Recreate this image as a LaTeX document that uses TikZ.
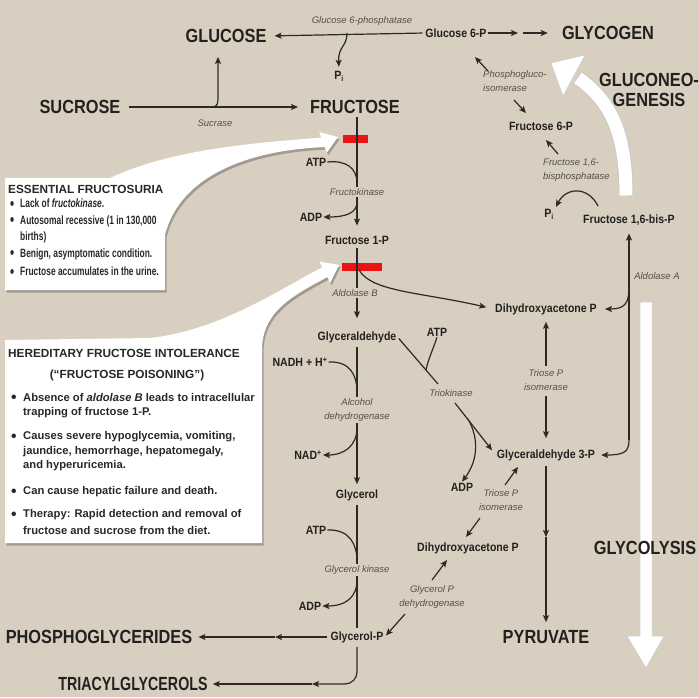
\documentclass[tikz,border=0pt]{standalone}
\usepackage{fontspec}
\setmainfont{Liberation Sans}
\newfontfamily\fcond[FakeStretch=0.86]{Liberation Sans}
\newfontfamily\fcondn[FakeStretch=0.75]{Liberation Sans}
\newfontfamily\fmid[FakeStretch=0.88]{Liberation Sans}
\newfontfamily\fboxa[FakeStretch=0.70]{Liberation Sans}
\newfontfamily\fboxb[FakeStretch=1.0]{Liberation Sans}
\usetikzlibrary{arrows.meta,shadows}
\definecolor{bg}{RGB}{216,207,193}
\definecolor{txtc}{RGB}{35,33,30}
\definecolor{linec}{RGB}{45,42,38}
\definecolor{enzc}{RGB}{85,80,75}
\definecolor{boxtc}{RGB}{40,40,40}
\definecolor{redc}{RGB}{235,20,20}
\newcommand{\bigtxt}{\fcond\bfseries\fontsize{19}{20}\selectfont}
\newcommand{\bigntxt}{\fcondn\bfseries\fontsize{19}{20}\selectfont}
\newcommand{\midtxt}{\fmid\bfseries\fontsize{12}{13}\selectfont}
\newcommand{\enztxt}{\itshape\fontsize{9.5}{14}\selectfont}
\newcommand{\bheadtxt}{\bfseries\fontsize{11.8}{13}\selectfont}
\newcommand{\bodyatxt}{\fboxa\bfseries\fontsize{12}{13}\selectfont}
\newcommand{\bodybtxt}{\fboxb\bfseries\fontsize{11.2}{13}\selectfont}
\newcommand{\bdot}{\raisebox{-1.6pt}{\scalebox{1.4}{\textbullet}}}
\begin{document}
\begin{tikzpicture}[x=1pt,y=-1pt,
  arr/.style={draw=linec, line width=1.2pt, -{Stealth[length=7pt,width=6pt,inset=1.5pt]}},
  ln/.style={draw=linec, line width=1.2pt},
  big/.style={font=\bigtxt, text=txtc, inner sep=0pt},
  mid/.style={font=\midtxt, text=txtc, inner sep=1pt},
  enz/.style={font=\enztxt, text=enzc, inner sep=1.5pt, align=center},
  enzl/.style={font=\enztxt, text=enzc, inner sep=1pt, align=left},
  bhead/.style={font=\bheadtxt, text=boxtc, inner sep=0pt, anchor=west},
  bla/.style={font=\bodyatxt, text=boxtc, inner sep=0pt, anchor=west},
  blb/.style={font=\bodybtxt, text=boxtc, inner sep=0pt, anchor=west},
  whitearr/.style={fill=white, draw=black!20, line width=0.5pt},
  callout/.style={fill=white, drop shadow={shadow xshift=1.5pt, shadow yshift=-2.5pt, opacity=0.4, fill=black!70}}
]
\useasboundingbox (0,0) rectangle (699,697);
\fill[bg] (0,0) rectangle (699,697);

% big white process arrows
\filldraw[whitearr] (640,302) -- (652,302) -- (652,636) -- (664,636) -- (646,668) -- (627,636) -- (640,636) -- cycle;
\draw[black!22, line width=14.5pt] (626,196) .. controls (626,135) and (612,102) .. (578,78);
\filldraw[whitearr] (551,63) -- (585,55) -- (563,96) -- cycle;
\draw[white, line width=13pt] (626,195.5) .. controls (626,135) and (612,102) .. (578,78);

% callout boxes
\fill[callout] (5,178) -- (110,178) .. controls (170,150) and (250,143) .. (321.3,137.7)
  -- (319.3,132.1) -- (338,137) -- (326.7,152.7) -- (324.7,147.1)
  .. controls (250,150) and (180,175) .. (165,235) -- (165,290) -- (5,290) -- cycle;
\fill[callout] (5,340) -- (150,338) .. controls (220,330) and (275,292) .. (322.3,267.3)
  -- (319.4,261.5) -- (339,265) -- (330.2,282.9) -- (327.3,277.1)
  .. controls (292,296) and (262,312) .. (262,350) -- (262,543) -- (5,543) -- cycle;

% red blocks
\fill[redc] (343,135) rectangle (368,143);
\fill[redc] (342,263) rectangle (382,271);

% box texts
\node[bhead] (h1) at (8,189) {ESSENTIAL FRUCTOSURIA};
\node[bla] (a1) at (10,204) {\makebox[10pt][l]{\bdot}Lack of \textit{fructokinase}.};
\node[bla] (a2) at (10,221) {\makebox[10pt][l]{\bdot}Autosomal recessive (1 in 130,000};
\node[bla] (a2b) at (20,237) {births)};
\node[bla] (a3) at (10,254) {\makebox[10pt][l]{\bdot}Benign, asymptomatic condition.};
\node[bla] (a4) at (10,272) {\makebox[10pt][l]{\bdot}Fructose accumulates in the urine.};

\node[bhead] (h2) at (8,353) {HEREDITARY FRUCTOSE INTOLERANCE};
\node[bhead, anchor=center] (h2b) at (127,375) {(\textquotedblleft FRUCTOSE POISONING\textquotedblright)};
\node[blb] (b1) at (11,398) {\makebox[12pt][l]{\bdot}Absence of \textit{aldolase B} leads to intracellular};
\node[blb] (b1b) at (23,413) {trapping of fructose 1-P.};
\node[blb] (b2) at (11,437) {\makebox[12pt][l]{\bdot}Causes severe hypoglycemia, vomiting,};
\node[blb] (b2b) at (23,452) {jaundice, hemorrhage, hepatomegaly,};
\node[blb] (b2c) at (23,466) {and hyperuricemia.};
\node[blb] (b3) at (11,492) {\makebox[12pt][l]{\bdot}Can cause hepatic failure and death.};
\node[blb] (b4) at (11,515) {\makebox[12pt][l]{\bdot}Therapy: Rapid detection and removal of};
\node[blb] (b4b) at (23,530) {fructose and sucrose from the diet.};

% big labels
\node[big] (glucose) at (226,36) {GLUCOSE};
\node[big] (sucrose) at (80,107) {SUCROSE};
\node[big] (fructose) at (355,107) {FRUCTOSE};
\node[big] (glycogen) at (608,33) {GLYCOGEN};
\node[big, align=center] (gluconeo) at (649,90) {GLUCONEO-\\GENESIS};
\node[big] (pyruvate) at (546,637) {PYRUVATE};
\node[big] (glycolysis) at (645,548) {GLYCOLYSIS};
\node[big] (phos) at (99,637) {PHOSPHOGLYCERIDES};
\node[big, font=\bigntxt] (triacyl) at (133,684) {TRIACYLGLYCEROLS};

% metabolites
\node[mid] (pitop) at (339,76) {P\textsubscript{i}};
\node[mid] (g6p) at (456,33) {Glucose 6-P};
\node[mid] (f6p) at (541,126) {Fructose 6-P};
\node[mid] (pir) at (549,214) {P\textsubscript{i}};
\node[mid] (f16bp) at (629,220) {Fructose 1,6-bis-P};
\node[mid] (dhap) at (546,309) {Dihydroxyacetone P};
\node[mid] (g3p) at (546,455) {Glyceraldehyde 3-P};
\node[mid] (f1p) at (357,240) {Fructose 1-P};
\node[mid] (atpa) at (316,162) {ATP};
\node[mid] (adpa) at (311,217) {ADP};
\node[mid] (glyald) at (357,337) {Glyceraldehyde};
\node[mid] (nadh) at (300,362) {NADH + H\textsuperscript{+}};
\node[mid] (nad) at (308,455) {NAD\textsuperscript{+}};
\node[mid] (glycerol) at (357,495) {Glycerol};
\node[mid] (atpb) at (316,530) {ATP};
\node[mid] (adpb) at (310,606) {ADP};
\node[mid] (glyp) at (357,637) {Glycerol-P};
\node[mid] (atpc) at (437,332) {ATP};
\node[mid] (adpc) at (462,487) {ADP};
\node[mid] (dhap2) at (468,548) {Dihydroxyacetone P};

% enzyme labels (free)
\node[enz] (g6pase) at (362,21) {Glucose 6-phosphatase};
\node[enz] (sucrase) at (215,123) {Sucrase};
\node[enzl, anchor=west] (pgi) at (482,81) {Phosphogluco-\\isomerase};
\node[enzl, anchor=west] (fbpase) at (542,170) {Fructose 1,6-\\bisphosphatase};
\node[enz] (aldA) at (657,276) {Aldolase A};
\node[enz] (triok) at (451,393) {Triokinase};
\node[enz] (tpi2) at (501,500) {Triose P\\isomerase};
\node[enz] (gpdh) at (432,597) {Glycerol P\\dehydrogenase};

% coordinates for free ends
\coordinate (pisrc) at (347,33);
\coordinate (dbl1) at (518,33);
\coordinate (dbl2) at (523,33);
\coordinate (brc) at (205,107);
\coordinate (pgA) at (488,71); \coordinate (pgB) at (475,57);
\coordinate (pgC) at (514,100); \coordinate (pgD) at (526,113);
\coordinate (fbA) at (558,154); \coordinate (fbB) at (546,140);
\coordinate (fpA) at (598,206); \coordinate (fpB) at (556,207);
\coordinate (alA) at (629,440); \coordinate (alB) at (629,288);
\coordinate (pyA) at (546,537);
\coordinate (fkA) at (357,183); \coordinate (fkB) at (357,202);
\coordinate (adA) at (357,392); \coordinate (adB) at (357,428);
\coordinate (gkA) at (357,561); \coordinate (gkB) at (357,580);
\coordinate (phA) at (275,637);
\coordinate (trA) at (312,684);
\coordinate (tkA) at (438,384); \coordinate (tkB) at (426,370);
\coordinate (tkC) at (455,403); \coordinate (tkD) at (468,419);
\coordinate (tiA) at (505,485); \coordinate (tiB) at (518,467);
\coordinate (tiC) at (480,518); \coordinate (tiD) at (466,537);
\coordinate (gdA) at (432,580); \coordinate (gdB) at (447,560);
\coordinate (gdC) at (405,614);
\coordinate (rbA) at (359,270);

% top row
\draw[arr, shorten <=2pt, shorten >=8pt] (g6p.west) -- (glucose.east);
\draw[arr, shorten >=3pt] (pisrc) .. controls (347,47) and (338,46) .. (pitop.north);
\draw[arr] (g6p.east) -- (dbl1);
\draw[arr, shorten >=14pt] (dbl2) -- (glycogen.west);
\draw[arr, shorten <=8pt, shorten >=12pt] (sucrose.east) -- (fructose.west);
\draw[arr, shorten >=14pt] (brc) .. controls (218,107) .. (218,94) -- ([xshift=-8pt]glucose.south);

% right side
\draw[arr] (pgA) -- (pgB);
\draw[arr] (pgC) -- (pgD);
\draw[arr] (fbA) -- (fbB);
\draw[arr] (fpA) .. controls (588,186) and (566,187) .. (fpB);
\draw[arr, shorten >=7pt] (alA) -- (f16bp.south);
\draw[arr, shorten >=7pt] (alB) .. controls (629,304) and (624,309) .. (dhap.east);
\draw[arr, shorten >=5pt] (alA) .. controls (629,452) and (624,455) .. (g3p.east);
\draw[arr, shorten >=6pt] (546,366) -- (dhap.south);
\draw[arr, shorten >=10pt] (546,396) -- (g3p.north);
\node[enz] (tpi) at (546,380) {Triose P\\isomerase};
\draw[arr, shorten <=4pt] (g3p.south) -- (pyA);
\draw[arr, shorten >=8pt] (pyA) -- (pyruvate.north);

% red block 2 to DHAP
\draw[arr, shorten >=8pt] (rbA) .. controls (372,292) and (420,292) .. (dhap.west);

% central column
\draw[arr, shorten <=3pt, shorten >=9pt] (fructose.south -| f1p.north) -- (f1p.north);
\draw[ln] (atpa.east) .. controls (346,160) and (357,168) .. (fkA);
\draw[arr] (fkB) .. controls (357,213) and (346,217) .. (adpa.east);
\node[enz, fill=bg] (fk) at (357,192) {Fructokinase};

\draw[arr, shorten <=3pt, shorten >=12pt] (f1p.south) -- (glyald.north);
\node[enz, fill=bg] (aldB) at (355,293) {Aldolase B};

\draw[arr, shorten <=3pt, shorten >=4pt] (glyald.south) -- (glycerol.north);
\draw[ln] (nadh.east) .. controls (350,361) and (357,375) .. (adA);
\draw[arr] (adB) .. controls (357,445) and (345,455) .. (nad.east);
\node[enz, fill=bg] (adh) at (357,410) {Alcohol\\dehydrogenase};

\draw[ln, shorten <=3pt, shorten >=2pt] (glycerol.south) -- (glyp.north);
\draw[ln] (atpb.east) .. controls (350,529) and (357,545) .. (gkA);
\draw[arr] (gkB) .. controls (357,597) and (346,606) .. (adpb.east);
\node[enz, fill=bg] (gk) at (357,570) {Glycerol kinase};

\draw[arr, shorten <=2pt] (glyp.west) -- (phA);
\draw[arr, shorten >=6pt] (phA) -- (phos.east);
\draw[arr, rounded corners=12pt, shorten <=3pt] (glyp.south) |- (trA);
\draw[arr, shorten >=5pt] (trA) -- (triacyl.east);

% triokinase branch
\draw[ln, shorten <=2pt] (glyald.east) -- (tkA);
\draw[ln] (atpc.south) .. controls (432,352) and (428,360) .. (tkB);
\draw[arr, shorten >=6pt] (tkC) -- (g3p.west);
\draw[arr] (tkD) .. controls (480,440) and (477,462) .. (adpc.north);

% lower isomerase / dehydrogenase
\draw[arr] (tiA) -- (tiB);
\draw[arr] (tiC) -- (tiD);
\draw[arr] (gdA) -- (gdB);
\draw[arr, shorten >=2pt] (gdC) -- (glyp.east);
\end{tikzpicture}
\end{document}
